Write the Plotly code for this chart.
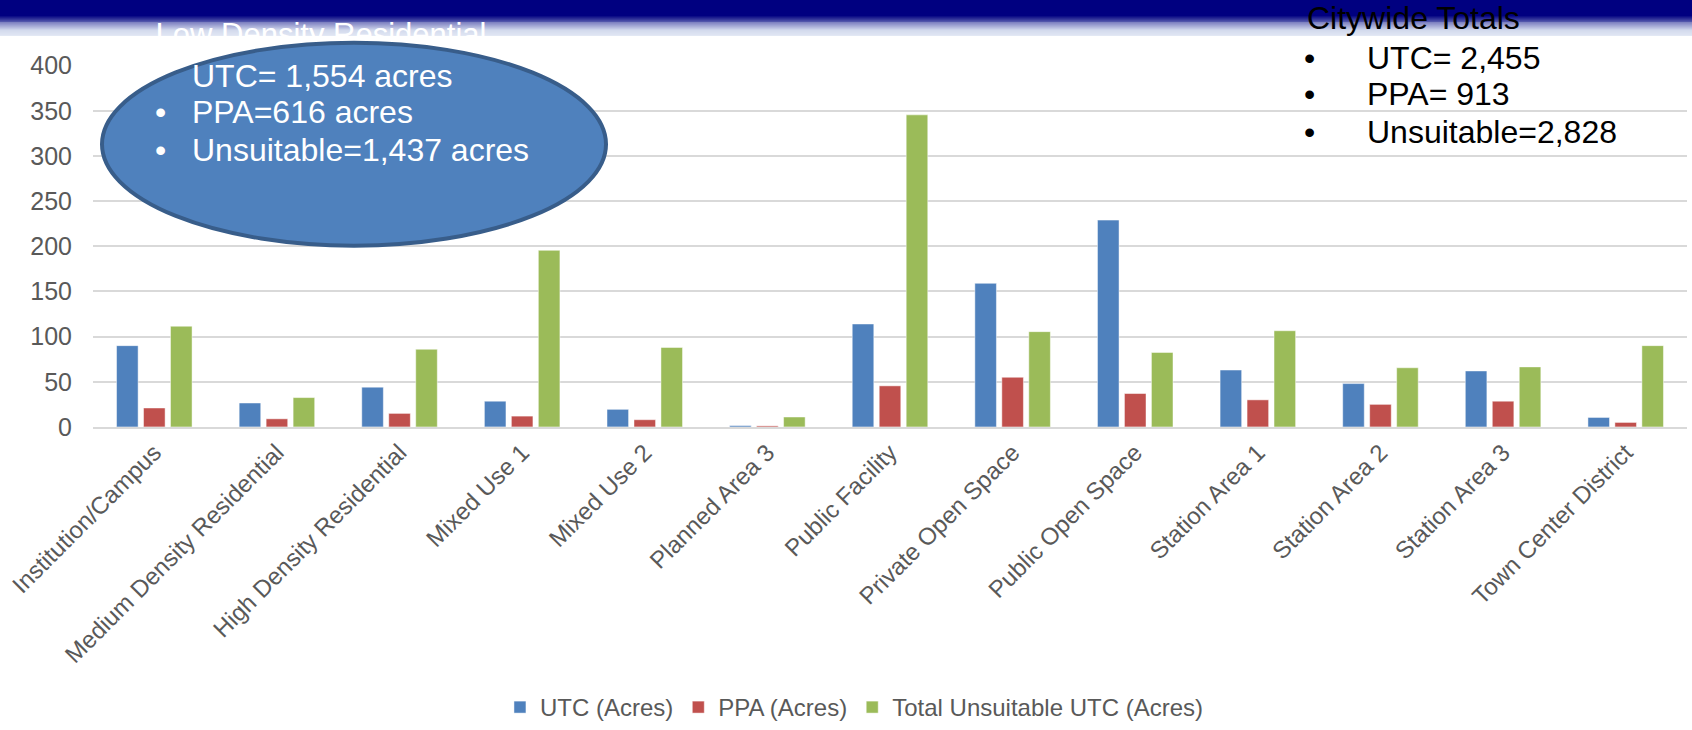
import plotly.graph_objects as go

# ---------------- data ----------------
categories = ["Institution/Campus", "Medium Density Residential", "High Density Residential",
              "Mixed Use 1", "Mixed Use 2", "Planned Area 3", "Public Facility",
              "Private Open Space", "Public Open Space", "Station Area 1",
              "Station Area 2", "Station Area 3", "Town Center District"]
utc = [90, 26.5, 44, 28.5, 19.5, 1.5, 114, 159, 229, 63, 48, 62, 10.5]
ppa = [21, 9, 15, 12, 8, 1.2, 45.5, 55, 37, 30, 25, 28.5, 5]
unsuitable = [111.5, 32.5, 86, 195.5, 88, 11, 345.5, 105.5, 82.5, 106.5, 65.5, 66.5, 90]
series_names = ["UTC (Acres)", "PPA (Acres)", "Total Unsuitable UTC (Acres)"]
series_colors = ["#4F81BD", "#C0504D", "#9BBB59"]
y_ticks = [0, 50, 100, 150, 200, 250, 300, 350, 400]

low_density_title = "Low Density Residential"
low_density_lines = ["UTC= 1,554 acres", "PPA=616 acres", "Unsuitable=1,437 acres"]
citywide_title = "Citywide Totals"
citywide_lines = ["UTC= 2,455", "PPA= 913", "Unsuitable=2,828"]

# ---------------- figure ----------------
W, H = 1692, 730
FONT = "Liberation Sans, Arial, sans-serif"
GRID = "#D9D9D9"
TXT = "#595959"

fig = go.Figure()
for name, vals, col in zip(series_names, [utc, ppa, unsuitable], series_colors):
    fig.add_trace(go.Bar(x=categories, y=vals, name=name,
                         marker=dict(color=col, line=dict(color="rgba(255,255,255,0.6)", width=0.8)),
                         xaxis="x", yaxis="y"))

# text trace on a full-page overlay subplot so the ellipse can partly cover it
fig.add_trace(go.Scatter(x=[321], y=[37], text=[low_density_title], mode="text",
                         textposition="middle center",
                         textfont=dict(size=31, color="white", family=FONT),
                         xaxis="x2", yaxis="y2", showlegend=False, hoverinfo="skip"))

def px(x):
    return x / W

def py(y):
    return 1 - y / H

shapes = []
# banner gradient
def banner_color(yp):
    navy = (0, 0, 128)
    mid = (200, 209, 233)
    light = (220, 227, 242)
    if yp < 15:
        c = navy
    elif yp < 30:
        t = (yp - 15) / 15
        c = tuple(round(a + (b - a) * t) for a, b in zip(navy, mid))
    else:
        t = (yp - 30) / 6
        c = tuple(round(a + (b - a) * t) for a, b in zip(mid, light))
    return "rgb(%d,%d,%d)" % c

for yp in range(0, 36):
    shapes.append(dict(type="rect", xref="paper", yref="paper", x0=0, x1=1,
                       y0=py(yp + 1), y1=py(yp),
                       fillcolor=banner_color(yp), line=dict(width=0), layer="below"))

# ellipse
shapes.append(dict(type="circle", xref="paper", yref="paper",
                   x0=px(102), x1=px(606), y0=py(247), y1=py(43),
                   fillcolor="#4F81BD", line=dict(color="#385D8A", width=4), layer="above"))

annotations = []
big = dict(size=32, family=FONT)
ell_y = [76, 113, 151]
for i, (line, yy) in enumerate(zip(low_density_lines, ell_y)):
    annotations.append(dict(xref="paper", yref="paper", x=px(190), y=py(yy), text=line,
                            showarrow=False, xanchor="left", yanchor="middle",
                            font=dict(color="white", **big)))
    if i > 0:
        annotations.append(dict(xref="paper", yref="paper", x=px(160), y=py(yy), text="•",
                                showarrow=False, xanchor="center", yanchor="middle",
                                font=dict(color="white", **big)))

annotations.append(dict(xref="paper", yref="paper", x=px(1305), y=py(18), text=citywide_title,
                        showarrow=False, xanchor="left", yanchor="middle",
                        font=dict(color="black", **big)))
for line, yy in zip(citywide_lines, [58, 95, 133]):
    annotations.append(dict(xref="paper", yref="paper", x=px(1309), y=py(yy), text="•",
                            showarrow=False, xanchor="center", yanchor="middle",
                            font=dict(color="black", **big)))
    annotations.append(dict(xref="paper", yref="paper", x=px(1365), y=py(yy), text=line,
                            showarrow=False, xanchor="left", yanchor="middle",
                            font=dict(color="black", **big)))

fig.update_layout(
    template="none",
    width=W, height=H,
    margin=dict(l=0, r=0, t=0, b=0, pad=0),
    paper_bgcolor="white", plot_bgcolor="rgba(0,0,0,0)",
    font=dict(family=FONT, color=TXT),
    barmode="group", bargap=0.34, bargroupgap=0.2,
    xaxis=dict(domain=[93 / W, 1687 / W], anchor="y", type="category",
               tickangle=-45, tickfont=dict(size=24, color=TXT, family=FONT),
               showgrid=False, showline=True, linecolor=GRID, linewidth=2,
               ticks="", automargin=False, zeroline=False),
    yaxis=dict(domain=[(H - 429.3) / H, (H - 66) / H], anchor="x", range=[0, 400],
               tickvals=y_ticks, tickfont=dict(size=25, color=TXT, family=FONT),
               showgrid=True, gridcolor=GRID, gridwidth=1.6, zeroline=False,
               showline=False, ticks="", ticklabelstandoff=20, automargin=False),
    xaxis2=dict(domain=[0, 1], anchor="y2", range=[0, W], visible=False, automargin=False),
    yaxis2=dict(domain=[0, 1], anchor="x2", range=[H, 0], visible=False, automargin=False),
    legend=dict(orientation="h", x=0.505, xanchor="center", y=0.025, yanchor="middle",
                font=dict(size=24, color=TXT, family=FONT), bgcolor="rgba(0,0,0,0)"),
    shapes=shapes,
    annotations=annotations,
    showlegend=True,
)

fig.write_html("out.html", config={"displayModeBar": False},
               post_script="document.body.style.margin='0px';")
